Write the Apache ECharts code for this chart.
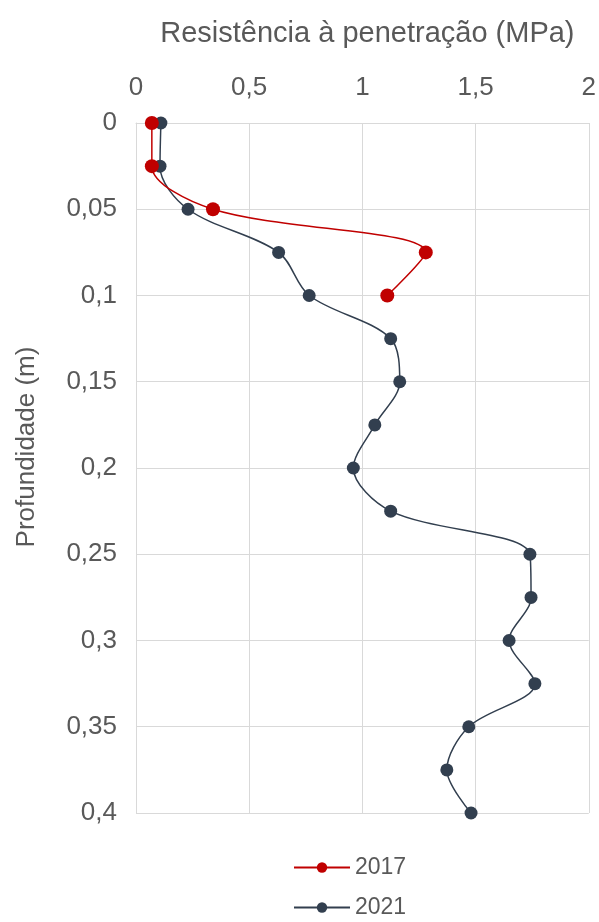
<!DOCTYPE html>
<html>
<head>
<meta charset="utf-8">
<script src="https://cdn.jsdelivr.net/npm/echarts@6/dist/echarts.min.js"></script>
<style>
  html, body { margin: 0; padding: 0; background: #ffffff; }
  #chart { width: 599px; height: 922px; }
</style>
</head>
<body>
<div id="chart"></div>
<script>
// Depth of each reading (m)
const depths2017 = [0, 0.025, 0.05, 0.075, 0.1];
const depths2021 = [0, 0.025, 0.05, 0.075, 0.1, 0.125, 0.15, 0.175, 0.2, 0.225,
                    0.25, 0.275, 0.3, 0.325, 0.35, 0.375, 0.4];

// Penetration resistance (MPa)
const resistance2017 = [0.07, 0.07, 0.34, 1.28, 1.11];
const resistance2021 = [0.11, 0.106, 0.23, 0.63, 0.765, 1.125, 1.165, 1.055, 0.96, 1.125,
                        1.74, 1.745, 1.648, 1.762, 1.47, 1.373, 1.48];

const seriesNames = ['2017', '2021'];
const xTitle = 'Resistência à penetração (MPa)';
const yTitle = 'Profundidade (m)';

const pairs = (xs, ys) => xs.map((x, i) => [x, ys[i]]);
const fmt = v => String(+v.toFixed(3)).replace('.', ',');

const FONT = '"Liberation Sans", Arial, sans-serif';
const TEXT = '#595959';
const GRID = '#d9d9d9';

const chart = echarts.init(document.getElementById('chart'), null, { renderer: 'canvas' });
chart.setOption({
  animation: false,
  backgroundColor: '#ffffff',
  grid: { left: 136, top: 123, width: 453, height: 690, containLabel: false },
  xAxis: {
    type: 'value',
    position: 'top',
    min: 0, max: 2, interval: 0.5,
    name: xTitle,
    nameLocation: 'middle',
    nameGap: 75,
    nameTextStyle: { fontFamily: FONT, fontSize: 29, color: TEXT, padding: [0, 0, 0, 10] },
    axisLine: { show: true, lineStyle: { color: GRID, width: 1 } },
    axisTick: { show: false },
    axisLabel: { fontFamily: FONT, fontSize: 26, color: TEXT, margin: 22, formatter: fmt },
    splitLine: { show: true, lineStyle: { color: GRID, width: 1 } }
  },
  yAxis: {
    type: 'value',
    inverse: true,
    min: 0, max: 0.4, interval: 0.05,
    name: yTitle,
    nameLocation: 'middle',
    nameGap: 96,
    nameRotate: 90,
    nameTextStyle: { fontFamily: FONT, fontSize: 26, color: TEXT, padding: [0, 0, 0, 42] },
    axisLine: { show: true, lineStyle: { color: GRID, width: 1 } },
    axisTick: { show: false },
    axisLabel: { fontFamily: FONT, fontSize: 26, color: TEXT, margin: 19, formatter: fmt },
    splitLine: { show: true, lineStyle: { color: GRID, width: 1 } }
  },
  legend: {
    orient: 'vertical',
    left: 293,
    top: 856,
    padding: 0,
    itemWidth: 56,
    itemHeight: 13,
    itemGap: 17,
    textStyle: { fontFamily: FONT, fontSize: 23, color: TEXT },
    data: seriesNames
  },
  series: [
    {
      name: seriesNames[0],
      type: 'line',
      data: pairs(resistance2017, depths2017),
      smooth: 0.33,
      symbol: 'circle',
      symbolSize: 14,
      z: 3,
      itemStyle: { color: '#c00000' },
      lineStyle: { color: '#c00000', width: 1.5 }
    },
    {
      name: seriesNames[1],
      type: 'line',
      data: pairs(resistance2021, depths2021),
      smooth: 0.33,
      symbol: 'circle',
      symbolSize: 13,
      z: 2,
      itemStyle: { color: '#323f4f' },
      lineStyle: { color: '#323f4f', width: 1.5 }
    }
  ]
});
</script>
</body>
</html>
